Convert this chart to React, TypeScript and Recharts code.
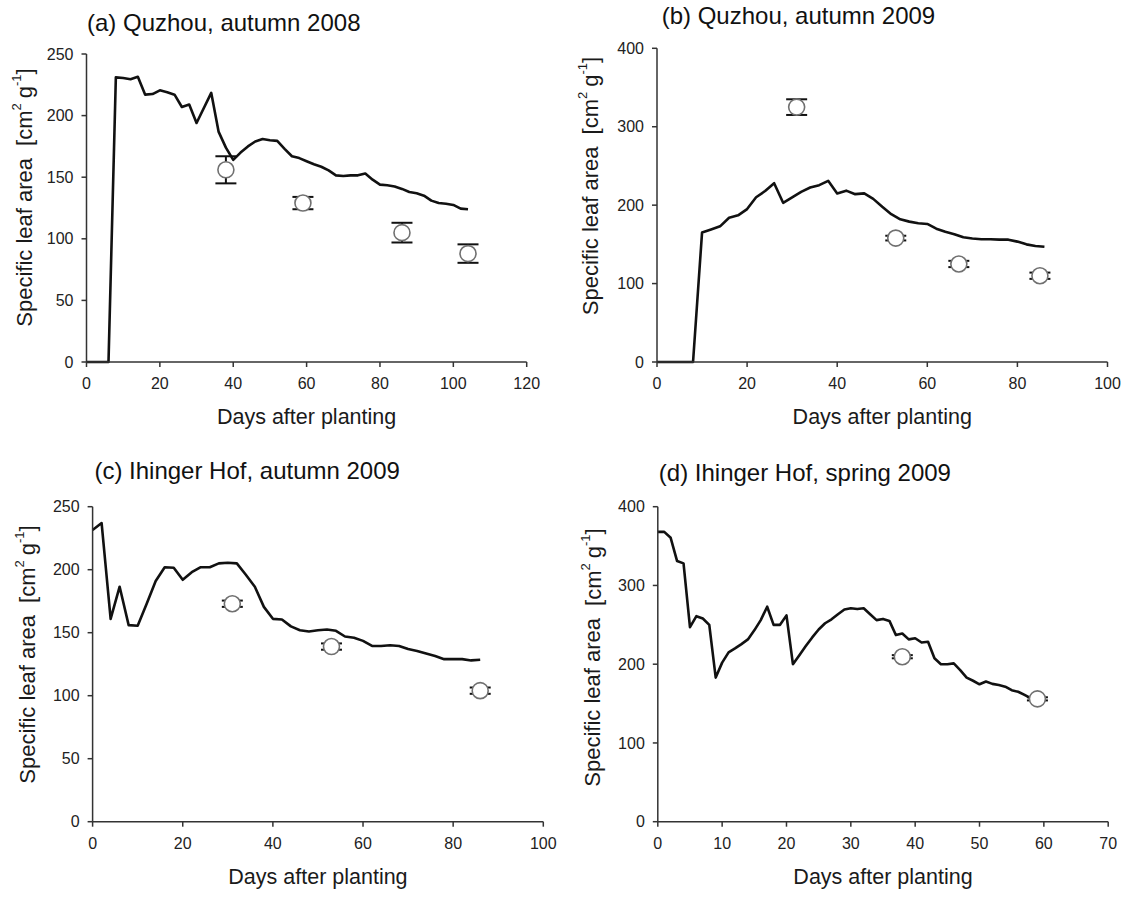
import React from "react";
import {
  ComposedChart,
  Line,
  Scatter,
  ErrorBar,
  XAxis,
  YAxis,
  Customized,
} from "recharts";

// ---- data: (a) Quzhou, autumn 2008 ----
const daysA = [0, 6, 8, 10, 12, 14, 16, 18, 20, 22, 24, 26, 28, 30, 34, 36, 38, 40, 42, 44, 46, 48, 50, 52, 54, 56, 58, 60, 62, 64, 66, 68, 70, 72, 74, 76, 78, 80, 82, 84, 86, 88, 90, 92, 94, 96, 98, 100, 102, 104];
const slaA = [0, 0, 231, 230.5, 229.5, 231.5, 217, 217.5, 220.5, 219, 217, 207, 209, 194, 218.5, 187, 174, 164, 170, 175, 179, 181, 180, 179.5, 173, 167, 165.5, 163, 160.5, 158.5, 155.5, 151.5, 151, 151.5, 151.5, 153, 148, 144, 143.5, 142.5, 140.5, 138, 137, 135, 131, 129, 128.5, 127.5, 124.5, 124];
const obsDaysA = [38, 59, 86, 104];
const obsA = [156, 129, 105, 88];
const errA = [11, 5, 8, 7.5];

// ---- data: (b) Quzhou, autumn 2009 ----
const daysB = [0, 8, 10, 12, 14, 16, 18, 20, 22, 24, 26, 28, 30, 32, 34, 36, 38, 40, 42, 44, 46, 48, 50, 52, 54, 56, 58, 60, 62, 64, 66, 68, 70, 72, 74, 76, 78, 80, 82, 84, 86];
const slaB = [0, 0, 165, 169, 173, 184, 187, 195, 210, 218, 228, 203, 210, 217, 222.5, 225.5, 231, 215, 218.5, 214, 215, 208, 198, 188.5, 182, 179, 177, 176, 170, 166, 163, 159, 157.5, 156.5, 156.5, 156, 156, 153.5, 150, 148, 147];
const obsDaysB = [31, 53, 67, 85];
const obsB = [325, 158, 125, 110];
const errB = [10, 3, 4, 4];

// ---- data: (c) Ihinger Hof, autumn 2009 ----
const daysC = [0, 2, 4, 6, 8, 10, 12, 14, 16, 18, 20, 22, 24, 26, 28, 30, 32, 34, 36, 38, 40, 42, 44, 46, 48, 50, 52, 54, 56, 58, 60, 62, 64, 66, 68, 70, 72, 74, 76, 78, 80, 82, 84, 86];
const slaC = [231.5, 237, 161, 186.5, 156, 155.5, 173, 191, 202, 201.5, 192, 198, 202, 202, 205, 205.5, 205, 196, 186.5, 170.5, 161, 160.5, 155, 152, 151, 152, 152.5, 151.5, 147, 146, 143.5, 139.5, 139.5, 140, 139.5, 137, 135.5, 133.5, 131.5, 129, 129, 129, 128, 128.5];
const obsDaysC = [31, 53, 86];
const obsC = [173, 139, 104];
const errC = [2.5, 2.5, 2.5];

// ---- data: (d) Ihinger Hof, spring 2009 ----
const daysD = [0, 1, 2, 3, 4, 5, 6, 7, 8, 9, 10, 11, 12, 13, 14, 15, 16, 17, 18, 19, 20, 21, 22, 23, 24, 25, 26, 27, 28, 29, 30, 31, 32, 33, 34, 35, 36, 37, 38, 39, 40, 41, 42, 43, 44, 45, 46, 47, 48, 49, 50, 51, 52, 53, 54, 55, 56, 57, 58, 59];
const slaD = [368, 368, 360.5, 331, 328, 247, 261, 258, 250, 183, 202, 215, 220, 225.5, 231.5, 243, 256, 273, 250, 250, 262, 200, 211.5, 223, 234, 244, 252, 257, 263.5, 269.5, 271, 270, 271, 263.5, 256, 257.5, 255, 237, 239, 231.5, 233, 227.5, 228.5, 207.5, 200, 200, 201, 192.5, 183, 179, 174.5, 178, 175, 173.5, 171.5, 167, 165, 161, 156.5, 157.5];
const obsDaysD = [38, 59];
const obsD = [209.5, 156];
const errD = [2, 2];

// ---- axis ticks ----
const xTicksA = [0, 20, 40, 60, 80, 100, 120];
const xTicksB = [0, 20, 40, 60, 80, 100];
const xTicksD = [0, 10, 20, 30, 40, 50, 60, 70];
const yTicks250 = [0, 50, 100, 150, 200, 250];
const yTicks400 = [0, 100, 200, 300, 400];

const FONT = '"Liberation Sans", Arial, Helvetica, sans-serif';
const AXIS = "#333";

const toModel = (days: number[], vals: number[]) =>
  days.map((d, i) => ({ day: d, sla: vals[i] }));
const toObs = (days: number[], vals: number[], errs: number[]) =>
  days.map((d, i) => ({ day: d, sla: vals[i], err: errs[i] }));

function OpenCircle(props: { cx?: number; cy?: number }) {
  const { cx, cy } = props;
  if (cx == null || cy == null) return null;
  return <circle cx={cx} cy={cy} r={8} fill="#fff" stroke="#707070" strokeWidth={1.6} />;
}

function Labels({
  title,
  titleX,
  titleY,
  yLabX,
  yLabY,
  xLabX,
  xLabY,
}: {
  title: string;
  titleX: number;
  titleY: number;
  yLabX: number;
  yLabY: number;
  xLabX: number;
  xLabY: number;
}) {
  return (
    <g fontFamily={FONT}>
      <text x={titleX} y={titleY} fontSize={24} fill="#111">
        {title}
      </text>
      <text
        x={yLabX}
        y={yLabY}
        transform={`rotate(-90 ${yLabX} ${yLabY})`}
        textAnchor="middle"
        dominantBaseline="central"
        fontSize={22}
        fill="#1a1a1a"
      >
        Specific leaf area
        <tspan dx={12}>[cm</tspan>
        <tspan dy={-8} fontSize={13}>2</tspan>
        <tspan dy={8} dx={5}>g</tspan>
        <tspan dy={-8} fontSize={13}>-1</tspan>
        <tspan dy={8}>]</tspan>
      </text>
      <text x={xLabX} y={xLabY} textAnchor="middle" fontSize={21.5} fill="#1a1a1a">
        Days after planting
      </text>
    </g>
  );
}

type PanelProps = {
  left: number;
  top: number;
  width: number;
  height: number;
  plotLeft: number;
  plotRight: number;
  plotTop: number;
  plotBottom: number;
  xMax: number;
  xTicks: number[];
  yMax: number;
  yTicks: number[];
  model: { day: number; sla: number }[];
  obs: { day: number; sla: number; err: number }[];
  title: string;
  titleX: number;
  titleY: number;
  yLabX: number;
  yLabY: number;
};

function Panel(p: PanelProps) {
  const xLabX = (p.plotLeft + p.plotRight) / 2;
  const xLabY = p.plotBottom + 62;
  return (
    <div style={{ position: "absolute", left: p.left, top: p.top }}>
      <ComposedChart
        width={p.width}
        height={p.height}
        margin={{ top: p.plotTop, right: p.width - p.plotRight, left: 0, bottom: 0 }}
      >
        <XAxis
          dataKey="day"
          type="number"
          domain={[0, p.xMax]}
          ticks={p.xTicks}
          interval={0}
          height={p.height - p.plotBottom}
          tickSize={5}
          tickMargin={11}
          axisLine={{ stroke: AXIS, strokeWidth: 1.5 }}
          tickLine={{ stroke: AXIS, strokeWidth: 1.5 }}
          tick={{ fill: "#222", fontSize: 16, fontFamily: FONT }}
        />
        <YAxis
          type="number"
          domain={[0, p.yMax]}
          ticks={p.yTicks}
          interval={0}
          width={p.plotLeft}
          tickSize={5}
          tickMargin={8}
          axisLine={{ stroke: AXIS, strokeWidth: 1.5 }}
          tickLine={{ stroke: AXIS, strokeWidth: 1.5 }}
          tick={{ fill: "#222", fontSize: 16, fontFamily: FONT }}
        />
        <Line
          data={p.model}
          dataKey="sla"
          type="linear"
          stroke="#111"
          strokeWidth={2.6}
          strokeLinejoin="round"
          dot={false}
          activeDot={false}
          isAnimationActive={false}
        />
        <Scatter data={p.obs} dataKey="sla" shape={<OpenCircle />} isAnimationActive={false}>
          <ErrorBar dataKey="err" direction="y" width={10.5} stroke="#111" strokeWidth={2} />
        </Scatter>
        <Customized
          component={
            <Labels
              title={p.title}
              titleX={p.titleX}
              titleY={p.titleY}
              yLabX={p.yLabX}
              yLabY={p.yLabY}
              xLabX={xLabX}
              xLabY={xLabY}
            />
          }
        />
      </ComposedChart>
    </div>
  );
}

export default function App() {
  return (
    <div
      style={{
        position: "absolute",
        left: 0,
        top: 0,
        width: 1125,
        height: 897,
        background: "#fff",
        fontFamily: FONT,
      }}
    >
      <Panel
        left={0}
        top={0}
        width={560}
        height={440}
        plotLeft={86.5}
        plotRight={526.7}
        plotTop={54}
        plotBottom={362}
        xMax={120}
        xTicks={xTicksA}
        yMax={250}
        yTicks={yTicks250}
        model={toModel(daysA, slaA)}
        obs={toObs(obsDaysA, obsA, errA)}
        title="(a) Quzhou, autumn 2008"
        titleX={87}
        titleY={31}
        yLabX={24}
        yLabY={197.5}
      />
      <Panel
        left={560}
        top={0}
        width={565}
        height={440}
        plotLeft={97}
        plotRight={547.5}
        plotTop={48.3}
        plotBottom={362}
        xMax={100}
        xTicks={xTicksB}
        yMax={400}
        yTicks={yTicks400}
        model={toModel(daysB, slaB)}
        obs={toObs(obsDaysB, obsB, errB)}
        title="(b) Quzhou, autumn 2009"
        titleX={101.7}
        titleY={24}
        yLabX={30}
        yLabY={186}
      />
      <Panel
        left={0}
        top={440}
        width={560}
        height={457}
        plotLeft={92.6}
        plotRight={543.3}
        plotTop={66.7}
        plotBottom={381.7}
        xMax={100}
        xTicks={xTicksB}
        yMax={250}
        yTicks={yTicks250}
        model={toModel(daysC, slaC)}
        obs={toObs(obsDaysC, obsC, errC)}
        title="(c) Ihinger Hof, autumn 2009"
        titleX={94.4}
        titleY={39}
        yLabX={27}
        yLabY={214.5}
      />
      <Panel
        left={560}
        top={440}
        width={565}
        height={457}
        plotLeft={97.8}
        plotRight={548.2}
        plotTop={66.7}
        plotBottom={381.7}
        xMax={70}
        xTicks={xTicksD}
        yMax={400}
        yTicks={yTicks400}
        model={toModel(daysD, slaD)}
        obs={toObs(obsDaysD, obsD, errD)}
        title="(d) Ihinger Hof, spring 2009"
        titleX={98.8}
        titleY={41}
        yLabX={32.6}
        yLabY={217.5}
      />
    </div>
  );
}
